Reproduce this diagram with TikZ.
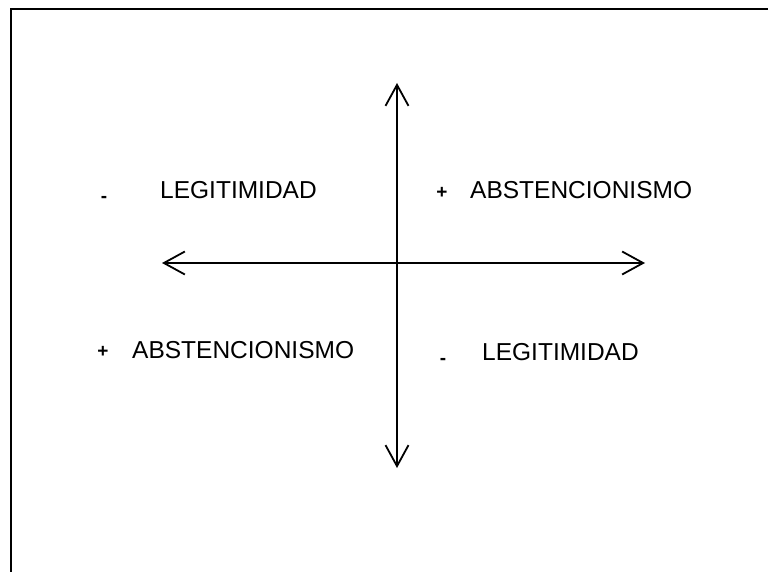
\documentclass[tikz,border=0pt]{standalone}
\usepackage{fontspec}
\setmainfont{Liberation Sans}
\usetikzlibrary{arrows.meta}
\begin{document}
\begin{tikzpicture}[x=1pt,y=-1pt,
  lbl/.style={anchor=base west,inner sep=0pt,font=\fontsize{24.5}{29}\selectfont},
  sgn/.style={inner sep=0pt,font=\bfseries\fontsize{19}{22}\selectfont},
  axis/.style={line width=1.8pt,{Straight Barb[length=21pt,width=23pt,line width=1.8pt]}-{Straight Barb[length=21pt,width=23pt,line width=1.8pt]}}]
\useasboundingbox (0,0) rectangle (768,572);
\draw[line width=1.8pt] (11,572) -- (11,9) -- (768,9);
\coordinate (top) at (397,83);
\coordinate (bot) at (397,468);
\coordinate (lft) at (162,263);
\coordinate (rgt) at (645,263);
\draw[axis] (top) -- (bot);
\draw[axis] (lft) -- (rgt);
\node[lbl] (ul) at (160,199) {LEGITIMIDAD};
\node[lbl] (ur) at (470,199) {ABSTENCIONISMO};
\node[lbl] (ll) at (132,358) {ABSTENCIONISMO};
\node[lbl] (lr) at (482,360) {LEGITIMIDAD};
\node[sgn] (ulm) at (104,199) {-};
\node[sgn] (urp) at (442,193) {+};
\node[sgn] (llp) at (103,352) {+};
\node[sgn] (lrm) at (443,361) {-};
\end{tikzpicture}
\end{document}
